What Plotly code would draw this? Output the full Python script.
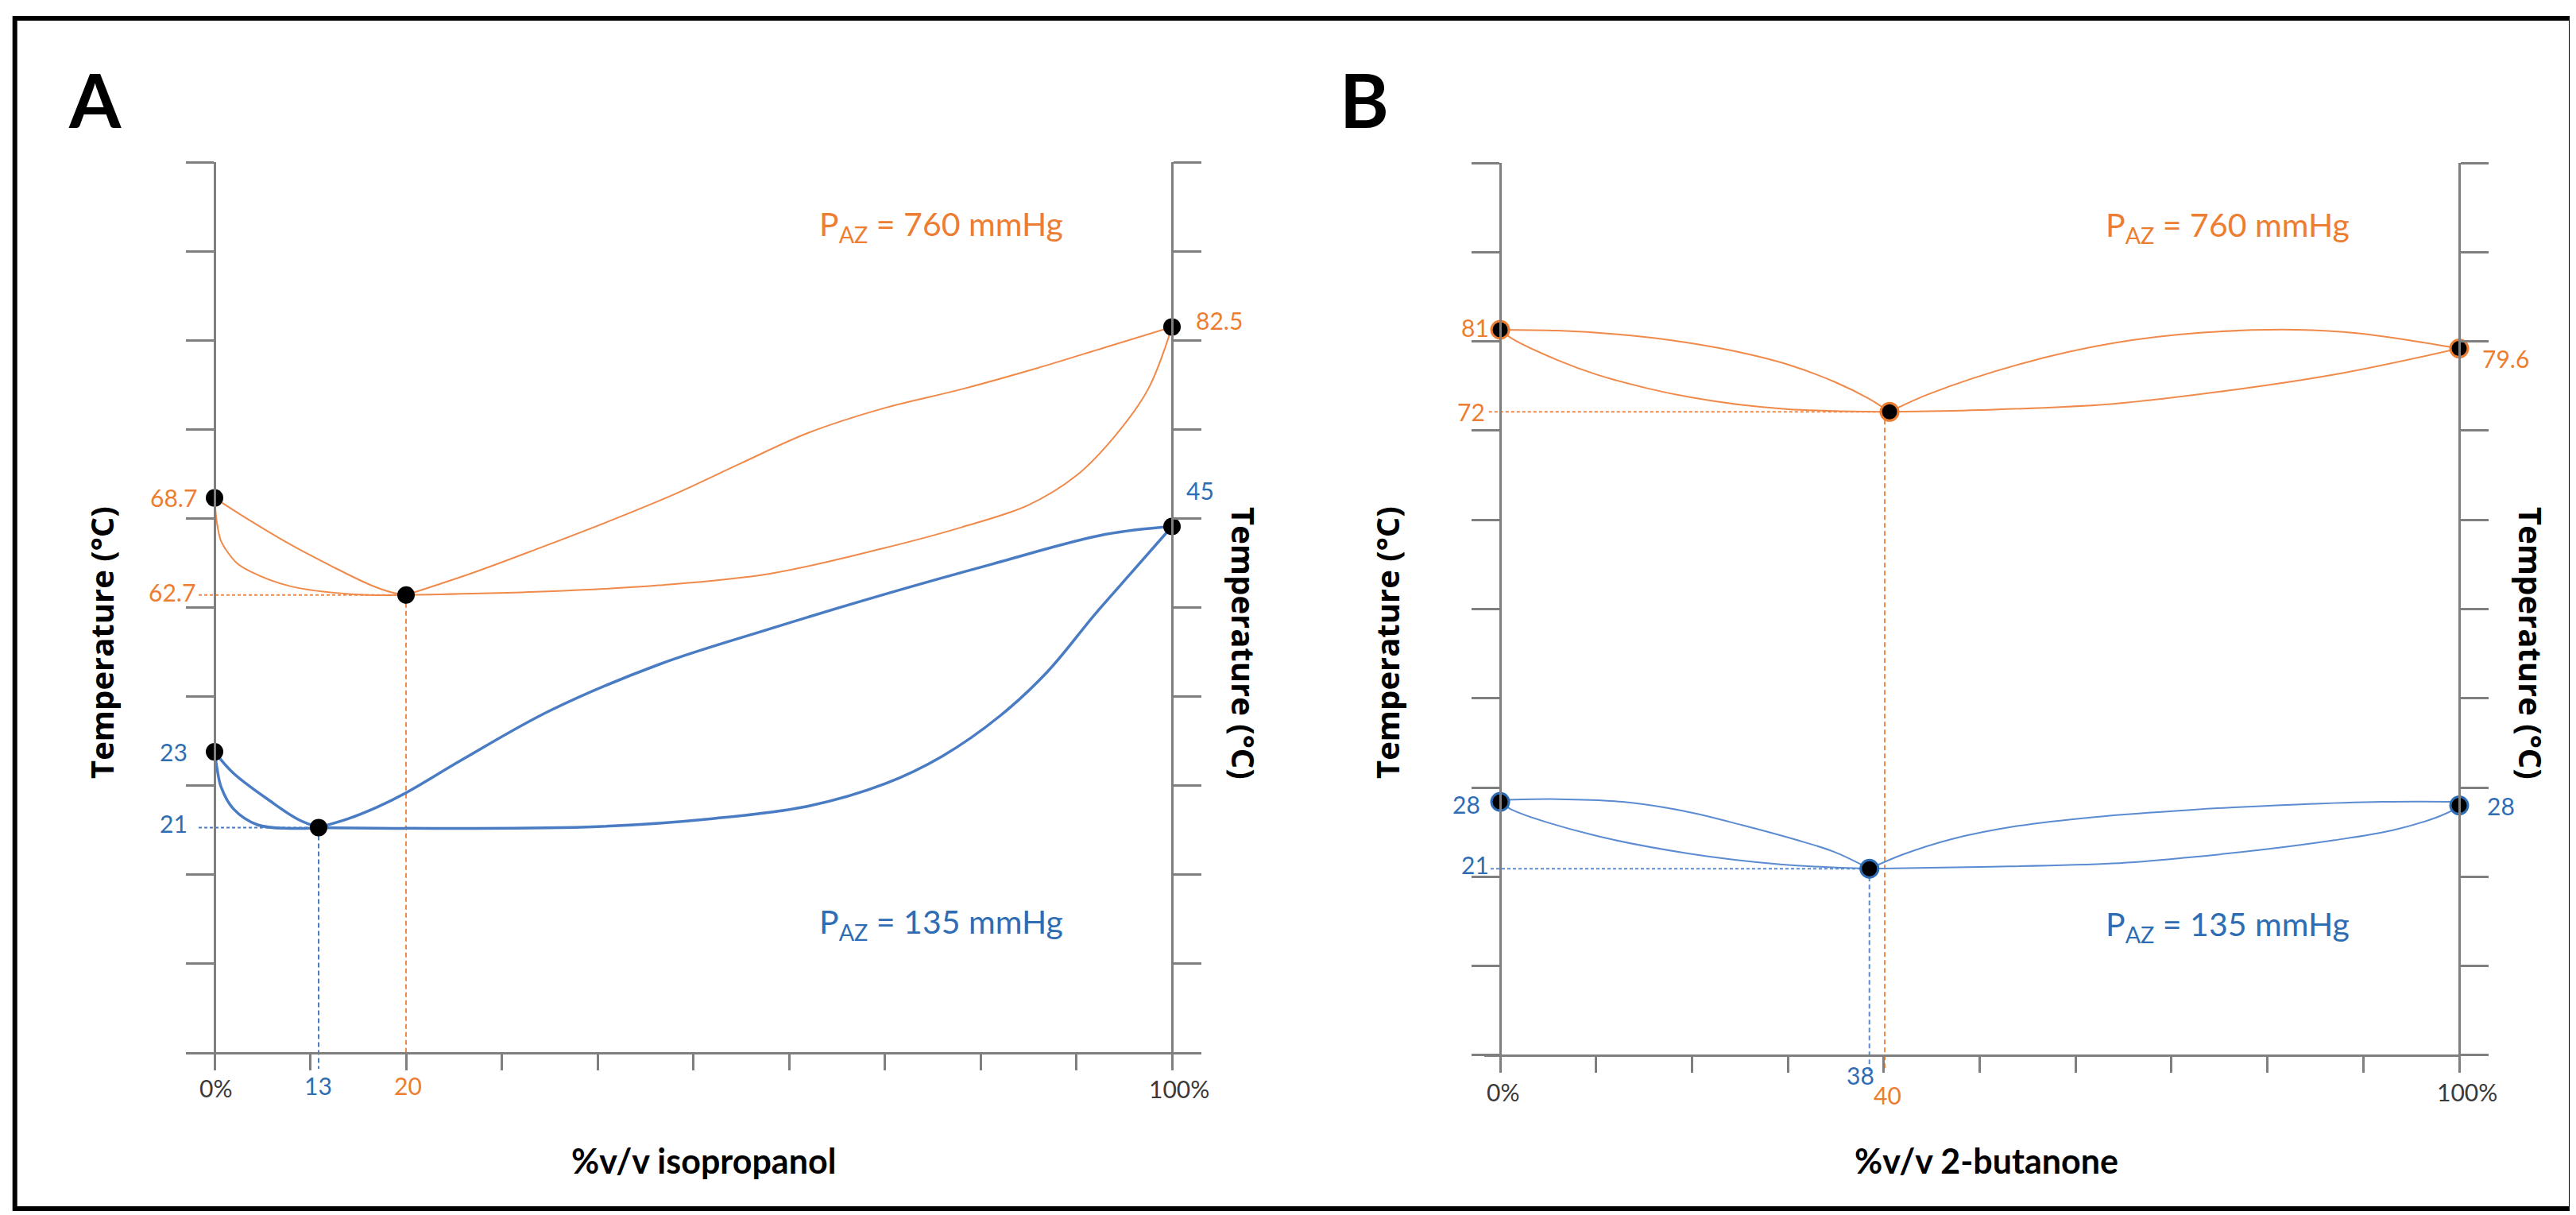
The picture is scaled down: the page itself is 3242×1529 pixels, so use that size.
import plotly.graph_objects as go

W, H = 3242, 1529

ORANGE = "#ED7D31"
ORANGE_LINE = "#F08A4B"
BLUE = "#2E6DB4"
BLUE_LINE_A = "#4A7CC4"
BLUE_LINE_B = "#5B8BD0"
AXIS = "#7f7f7f"
GREY_TXT = "#3a3a3a"

# ---------------- Panel A (isopropanol) : schematic temperature units ----------------
A_or_ul_x = [0, 3.65, 7.88, 12.12, 16.35, 18.5, 20]
A_or_ul_y = [6.23, 5.98, 5.71, 5.47, 5.25, 5.17, 5.14]
A_or_ll_x = [0, 0.25, 0.66, 1.12, 2.32, 3.65, 7.88, 14.27, 20]
A_or_ll_y = [6.23, 5.95, 5.75, 5.66, 5.50, 5.41, 5.24, 5.15, 5.14]
A_or_ur_x = [20, 27, 34, 41, 48, 55, 62, 70, 78, 86, 93, 100]
A_or_ur_y = [5.14, 5.39, 5.67, 5.96, 6.27, 6.62, 6.96, 7.24, 7.45, 7.69, 7.92, 8.15]
A_or_lr_x = [20, 34.74, 46.4, 58.0, 69.67, 78, 85, 90, 94, 97.5, 100]
A_or_lr_y = [5.14, 5.18, 5.25, 5.38, 5.66, 5.90, 6.15, 6.48, 6.92, 7.45, 8.15]

A_bl_ul_x = [0, 1.97, 5.78, 8.74, 10.87]
A_bl_ul_y = [3.38, 3.14, 2.83, 2.62, 2.53]
A_bl_ll_x = [0, 0.25, 0.7, 1.97, 4.5, 7.9, 10.87]
A_bl_ll_y = [3.38, 3.20, 2.98, 2.74, 2.56, 2.52, 2.53]
A_bl_ur_x = [10.87, 14, 17, 20, 26, 35, 46.4, 58, 69.7, 81.3, 93, 100]
A_bl_ur_y = [2.53, 2.63, 2.76, 2.92, 3.30, 3.84, 4.36, 4.76, 5.14, 5.49, 5.82, 5.91]
A_bl_lr_x = [10.87, 25, 40, 52, 62, 70, 76, 82, 87, 92, 96, 100]
A_bl_lr_y = [2.53, 2.52, 2.54, 2.63, 2.77, 3.02, 3.33, 3.78, 4.28, 4.93, 5.42, 5.91]

A_or_pts_x = [0, 20, 100]
A_or_pts_y = [6.23, 5.14, 8.15]
A_or_pts_lbl = ["68.7", "62.7", "82.5"]
A_bl_pts_x = [0, 10.87, 100]
A_bl_pts_y = [3.38, 2.53, 5.91]
A_bl_pts_lbl = ["23", "21", "45"]
A_or_comp_lbl = "20"
A_bl_comp_lbl = "13"

# ---------------- Panel B (2-butanone) ----------------
B_or_ul_x = [0, 6, 12, 18, 24, 30, 35, 38.4, 40.6]
B_or_ul_y = [8.13, 8.12, 8.08, 8.01, 7.90, 7.74, 7.54, 7.36, 7.21]
B_or_ll_x = [0, 1.24, 5.97, 10, 15.5, 20, 25, 30, 35, 40.6]
B_or_ll_y = [8.13, 8.03, 7.79, 7.63, 7.47, 7.37, 7.29, 7.24, 7.22, 7.21]
B_or_ur_x = [40.6, 44.7, 54.35, 63.93, 73.5, 83.1, 89.5, 100]
B_or_ur_y = [7.21, 7.41, 7.75, 7.98, 8.10, 8.13, 8.09, 7.92]
B_or_lr_x = [40.6, 50, 63.93, 76.7, 87.6, 100]
B_or_lr_y = [7.21, 7.23, 7.30, 7.46, 7.64, 7.92]

B_bl_ul_x = [0, 6, 12.76, 19, 25.2, 31, 34.8, 38.5]
B_bl_ul_y = [2.86, 2.87, 2.84, 2.74, 2.58, 2.41, 2.28, 2.09]
B_bl_ll_x = [0, 1.24, 9.6, 19.7, 29.2, 38.5]
B_bl_ll_y = [2.84, 2.75, 2.47, 2.26, 2.14, 2.09]
B_bl_ur_x = [38.5, 42, 47, 54, 62, 72, 83, 92, 100]
B_bl_ur_y = [2.09, 2.25, 2.42, 2.57, 2.67, 2.75, 2.81, 2.84, 2.84]
B_bl_lr_x = [38.5, 50, 63.9, 72, 80, 87, 93, 97.5, 100]
B_bl_lr_y = [2.09, 2.11, 2.15, 2.22, 2.31, 2.41, 2.52, 2.66, 2.78]

B_or_pts_x = [0, 40.6, 100]
B_or_pts_y = [8.13, 7.21, 7.92]
B_or_pts_lbl = ["81", "72", "79.6"]
B_bl_pts_x = [0, 38.5, 100]
B_bl_pts_y = [2.84, 2.09, 2.80]
B_bl_pts_lbl = ["28", "21", "28"]
B_or_comp_x = 40.1
B_or_comp_lbl = "40"
B_bl_comp_lbl = "38"

x_ticks = list(range(0, 101, 10))
y_ticks = list(range(0, 11))
x_end_lbl = ["0%", "100%"]

fig = go.Figure()


def curve(x, y, color, width, xa, ya):
    fig.add_trace(go.Scatter(x=x, y=y, mode="lines", xaxis=xa, yaxis=ya,
                             line=dict(color=color, width=width, shape="spline", smoothing=1.0),
                             hoverinfo="skip"))


def dashed(x, y, color, dash, xa, ya):
    fig.add_trace(go.Scatter(x=x, y=y, mode="lines", xaxis=xa, yaxis=ya,
                             line=dict(color=color, width=2, dash=dash), hoverinfo="skip"))


def points(x, y, edge, ew, xa, ya):
    fig.add_trace(go.Scatter(x=x, y=y, mode="markers", xaxis=xa, yaxis=ya, cliponaxis=False,
                             marker=dict(color="black", size=22, line=dict(color=edge, width=ew)),
                             hoverinfo="skip"))


YB = -0.1784  # bottom of subplot range (below x axis)

# ---- A ----
dashed([-1.66, A_or_pts_x[1]], [A_or_pts_y[1]] * 2, ORANGE_LINE, "4px,3px", "x", "y")
dashed([A_or_pts_x[1]] * 2, [A_or_pts_y[1], YB], ORANGE_LINE, "6px,4px", "x", "y")
dashed([-1.66, A_bl_pts_x[1]], [A_bl_pts_y[1]] * 2, BLUE_LINE_A, "4px,3px", "x", "y")
dashed([A_bl_pts_x[1]] * 2, [A_bl_pts_y[1], YB], BLUE_LINE_A, "6px,4px", "x", "y")
for cx, cy in [(A_or_ul_x, A_or_ul_y), (A_or_ll_x, A_or_ll_y), (A_or_ur_x, A_or_ur_y), (A_or_lr_x, A_or_lr_y)]:
    curve(cx, cy, ORANGE_LINE, 2, "x", "y")
for cx, cy in [(A_bl_ul_x, A_bl_ul_y), (A_bl_ll_x, A_bl_ll_y), (A_bl_ur_x, A_bl_ur_y), (A_bl_lr_x, A_bl_lr_y)]:
    curve(cx, cy, BLUE_LINE_A, 3.5, "x", "y")
points(A_or_pts_x, A_or_pts_y, "black", 0, "x", "y")
points(A_bl_pts_x, A_bl_pts_y, "black", 0, "x", "y")
fig.add_trace(go.Scatter(x=[None], y=[None], xaxis="x", yaxis="y3", showlegend=False))

# ---- B ----
dashed([-1.18, B_or_pts_x[1]], [B_or_pts_y[1]] * 2, ORANGE_LINE, "4px,3px", "x2", "y2")
dashed([B_or_comp_x] * 2, [B_or_pts_y[1], YB], ORANGE_LINE, "6px,4px", "x2", "y2")
dashed([-1.0, B_bl_pts_x[1]], [B_bl_pts_y[1]] * 2, BLUE_LINE_B, "4px,3px", "x2", "y2")
dashed([B_bl_pts_x[1]] * 2, [B_bl_pts_y[1], YB], BLUE_LINE_B, "6px,4px", "x2", "y2")
for cx, cy in [(B_or_ul_x, B_or_ul_y), (B_or_ll_x, B_or_ll_y), (B_or_ur_x, B_or_ur_y), (B_or_lr_x, B_or_lr_y)]:
    curve(cx, cy, ORANGE_LINE, 2, "x2", "y2")
for cx, cy in [(B_bl_ul_x, B_bl_ul_y), (B_bl_ll_x, B_bl_ll_y), (B_bl_ur_x, B_bl_ur_y), (B_bl_lr_x, B_bl_lr_y)]:
    curve(cx, cy, BLUE_LINE_B, 2, "x2", "y2")
points(B_or_pts_x, B_or_pts_y, ORANGE, 3, "x2", "y2")
points(B_bl_pts_x, B_bl_pts_y, "#2E6DB4", 3, "x2", "y2")
fig.add_trace(go.Scatter(x=[None], y=[None], xaxis="x2", yaxis="y4", showlegend=False))

# ---------------- axes ----------------
def xax(domain, pos):
    return dict(domain=domain, range=[-1.66, 100], anchor="free", position=pos,
                showline=True, linecolor=AXIS, linewidth=2.5, ticks="outside", ticklen=20,
                tickwidth=2.5, tickcolor=AXIS, tickmode="array", tickvals=x_ticks,
                showticklabels=False, showgrid=False, zeroline=False, fixedrange=True)


def yax(domain, pos, side="left", overlay=None):
    d = dict(domain=domain, range=[YB, 10], anchor="free", position=pos, side=side,
             showline=True, linecolor=AXIS, linewidth=2.5, ticks="outside", ticklen=35,
             tickwidth=2.5, tickcolor=AXIS, tickmode="array", tickvals=y_ticks,
             showticklabels=False, showgrid=False, zeroline=False, fixedrange=True)
    if overlay:
        d["overlaying"] = overlay
    return d


A_xdom = [242 / W, 1467 / W]
A_ydom = [1 - 1337 / H, 1 - 196 / H]
B_xdom = [1860 / W, 3087 / W]
B_ydom = [1 - 1340 / H, 1 - 197 / H]

fig.update_layout(
    width=W, height=H, margin=dict(l=0, r=0, t=0, b=0),
    paper_bgcolor="white", plot_bgcolor="white", showlegend=False,
    xaxis=xax(A_xdom, 1 - 1317 / H),
    yaxis=yax(A_ydom, 262 / W),
    yaxis3=yax(A_ydom, 1467 / W, side="right", overlay="y"),
    xaxis2=xax(B_xdom, 1 - 1320 / H),
    yaxis2=yax(B_ydom, 1880 / W),
    yaxis4=yax(B_ydom, 3087 / W, side="right", overlay="y2"),
)

# ---------------- text ----------------
NUM = "Lato, sans-serif"
ann = []


def lbl(text, x, y, xr, yr, color, xanchor, xs, ys, size=30):
    ann.append(dict(text=text, x=x, y=y, xref=xr, yref=yr, xanchor=xanchor, yanchor="middle",
                    xshift=xs, yshift=ys, showarrow=False,
                    font=dict(family=NUM, size=size, color=color)))


# A point labels
lbl(A_or_pts_lbl[0], 0, A_or_pts_y[0], "x", "y", ORANGE, "right", -20, 1)
lbl(A_or_pts_lbl[1], 0, A_or_pts_y[1], "x", "y", ORANGE, "right", -22, 4)
lbl(A_or_pts_lbl[2], 100, A_or_pts_y[2], "x", "y", ORANGE, "left", 28, 8)
lbl(A_bl_pts_lbl[0], 0, A_bl_pts_y[0], "x", "y", BLUE, "right", -32, 0)
lbl(A_bl_pts_lbl[1], 0, A_bl_pts_y[1], "x", "y", BLUE, "right", -32, 5)
lbl(A_bl_pts_lbl[2], 100, A_bl_pts_y[2], "x", "y", BLUE, "center", 35, 45)
lbl(A_bl_comp_lbl, A_bl_pts_x[1], 0, "x", "y", BLUE, "center", 0, -41)
lbl(A_or_comp_lbl, A_or_pts_x[1], 0, "x", "y", ORANGE, "center", 2, -41)
lbl(x_end_lbl[0], 0, 0, "x", "y", GREY_TXT, "center", 1, -44)
lbl(x_end_lbl[1], 100, 0, "x", "y", GREY_TXT, "center", 9, -45)

# B point labels
lbl(B_or_pts_lbl[0], 0, B_or_pts_y[0], "x2", "y2", ORANGE, "right", -12, 3)
lbl(B_or_pts_lbl[1], 0, B_or_pts_y[1], "x2", "y2", ORANGE, "right", -17, 0)
lbl(B_or_pts_lbl[2], 100, B_or_pts_y[2], "x2", "y2", ORANGE, "left", 27, -12)
lbl(B_bl_pts_lbl[0], 0, B_bl_pts_y[0], "x2", "y2", BLUE, "right", -23, -3)
lbl(B_bl_pts_lbl[1], 0, B_bl_pts_y[1], "x2", "y2", BLUE, "right", -12, 5)
lbl(B_bl_pts_lbl[2], 100, B_bl_pts_y[2], "x2", "y2", BLUE, "left", 33, 0)
lbl(B_bl_comp_lbl, B_bl_pts_x[1], 0, "x2", "y2", BLUE, "center", -11, -25)
lbl(B_or_comp_lbl, B_or_comp_x, 0, "x2", "y2", ORANGE, "center", 3, -50)
lbl(x_end_lbl[0], 0, 0, "x2", "y2", GREY_TXT, "center", 3, -46)
lbl(x_end_lbl[1], 100, 0, "x2", "y2", GREY_TXT, "center", 10, -46)

# pressure labels
P760 = "P<sub>AZ</sub> = 760 mmHg"
P135 = "P<sub>AZ</sub> = 135 mmHg"
for xr, yr in [("x", "y"), ("x2", "y2")]:
    ann.append(dict(text=P760, x=63.0, y=9.28, xref=xr, yref=yr, xanchor="left", yanchor="middle",
                    showarrow=False, font=dict(family=NUM, size=41, color=ORANGE)))
    ann.append(dict(text=P135, x=63.0, y=1.45, xref=xr, yref=yr, xanchor="left", yanchor="middle",
                    showarrow=False, font=dict(family=NUM, size=41, color=BLUE)))

# axis titles
TT = dict(family="Open Sans, sans-serif", size=40, color="black", weight="bold")
XT = dict(family="Lato, sans-serif", size=43, color="black", weight="bold")
for xp, ang in [(119, -90), (1558, 90), (1737, -90), (3178, 90)]:
    ann.append(dict(text="Temperature (°C)", x=xp / W, y=1 - 801 / H, xref="paper", yref="paper",
                    textangle=ang, showarrow=False, font=TT, xanchor="center", yanchor="middle"))
ann.append(dict(text="%v/v isopropanol", x=877 / W, y=1 - 1452 / H, xref="paper", yref="paper",
                showarrow=False, font=XT, xanchor="center", yanchor="middle"))
ann.append(dict(text="%v/v 2-butanone", x=2492 / W, y=1 - 1452 / H, xref="paper", yref="paper",
                showarrow=False, font=XT, xanchor="center", yanchor="middle"))
# panel letters
PL = dict(family="Lato, sans-serif", size=94, color="black", weight="bold")
ann.append(dict(text="A", x=111 / W, y=1 - 116 / H, xref="paper", yref="paper", showarrow=False,
                font=PL, xanchor="center", yanchor="middle"))
ann.append(dict(text="B", x=1709 / W, y=1 - 116 / H, xref="paper", yref="paper", showarrow=False,
                font=PL, xanchor="center", yanchor="middle"))

fig.update_layout(annotations=ann)

# outer frame
fig.add_shape(type="rect", xref="paper", yref="paper", x0=10.7 / W, x1=3228 / W,
              y0=1 - 1513 / H, y1=1 - 15 / H, line=dict(color="black", width=6))

fig.write_html("out.html")
